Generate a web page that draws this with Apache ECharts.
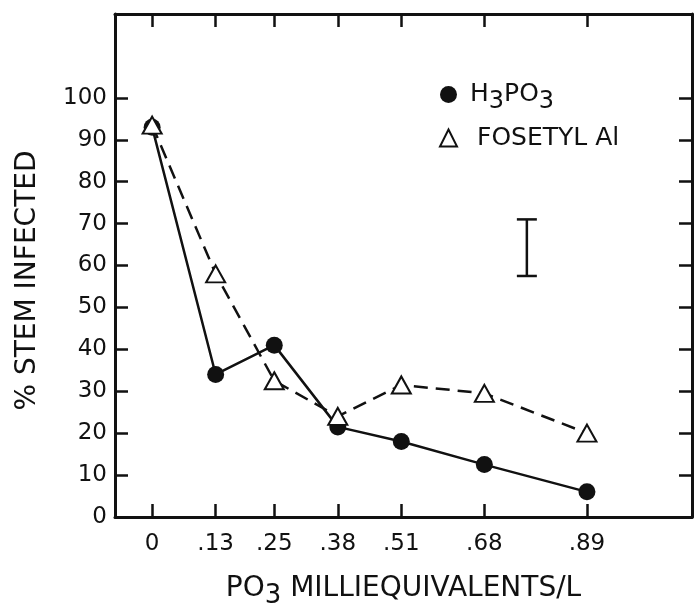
<!DOCTYPE html>
<html>
<head>
<meta charset="utf-8">
<script src="https://cdn.jsdelivr.net/npm/echarts@6/dist/echarts.min.js"></script>
<style>
  html, body { margin: 0; padding: 0; background: #fff; }
  #chart { width: 700px; height: 604px; }
</style>
</head>
<body>
<div id="chart"></div>
<script>
// PO3 concentration (meq/L) — the x positions of the points
const doses = [0, 0.13, 0.25, 0.38, 0.51, 0.68, 0.89];
// % stem infected
const h3po3 = [93, 34, 41, 21.5, 18, 12.5, 6];
const fosetyl = [93.5, 58, 32.5, 24, 31.5, 29.5, 20];
// error bar (LSD) drawn at the right of the plot
const errX = 0.767;
const errLow = 57.5;
const errHigh = 71;
const yTicks = [0, 10, 20, 30, 40, 50, 60, 70, 80, 90, 100];

const FONT = "DejaVu Sans";
const black = "#111";

function pairs(xs, ys) {
  return xs.map((x, i) => [x, ys[i]]);
}

const chart = echarts.init(document.getElementById("chart"), null, { renderer: "canvas" });

const tickStyle = { show: true, inside: true, length: 13, lineStyle: { color: black, width: 2.5 } };
const axisLine = { show: true, onZero: false, lineStyle: { color: black, width: 3 } };

chart.setOption({
  animation: false,
  backgroundColor: "#fff",
  grid: { left: 115, right: 8, top: 14, bottom: 87, containLabel: false, outerBoundsMode: "none" },
  legend: {
    orient: "vertical",
    left: 434,
    top: 77,
    itemWidth: 17,
    itemHeight: 17,
    itemGap: 12,
    data: [
      { name: "H3PO3", icon: "circle", itemStyle: { color: black, borderWidth: 0 } },
      { name: "FOSETYL Al", icon: "triangle", itemStyle: { color: "#fff", borderColor: black, borderWidth: 2 } },
    ],
    formatter: function (name) {
      if (name === "H3PO3") return "{f|H}{s|3}{n|PO}{s|3}";
      return "{g|" + name + "}";
    },
    textStyle: {
      color: black,
      fontFamily: FONT,
      rich: {
        f: { fontSize: 25, fontFamily: FONT, color: black, padding: [0, 0, 0, 8] },
        g: { fontSize: 25, fontFamily: FONT, color: black, padding: [0, 0, 0, 15] },
        n: { fontSize: 25, fontFamily: FONT, color: black },
        s: { fontSize: 24, fontFamily: FONT, color: black, padding: [14, 0, 0, 0] },
      },
    },
  },
  xAxis: [
    {
      type: "value",
      position: "bottom",
      min: -0.076,
      max: 1.105,
      axisLine: axisLine,
      axisTick: Object.assign({ customValues: doses }, tickStyle),
      axisLabel: {
        customValues: doses,
        margin: 16,
        color: black,
        fontFamily: FONT,
        fontSize: 23,
        formatter: function (v) {
          return v === 0 ? "0" : String(v).replace("0.", ".");
        },
      },
      splitLine: { show: false },
      name: "{n|PO}{s|3}{n| MILLIEQUIVALENTS/L}",
      nameLocation: "middle",
      nameGap: 52,
      nameTextStyle: {
        color: black,
        rich: {
          n: { fontSize: 28, fontFamily: FONT, color: black },
          s: { fontSize: 26, fontFamily: FONT, color: black, padding: [14, 0, 0, 0] },
        },
      },
    },
    {
      type: "value",
      position: "top",
      min: -0.076,
      max: 1.105,
      axisLine: axisLine,
      axisTick: Object.assign({ customValues: doses }, tickStyle),
      axisLabel: { show: false },
      splitLine: { show: false },
    },
  ],
  yAxis: [
    {
      type: "value",
      position: "left",
      min: 0,
      max: 120,
      axisLine: axisLine,
      axisTick: Object.assign({ customValues: yTicks }, tickStyle),
      axisLabel: {
        customValues: yTicks,
        margin: 8,
        color: black,
        fontFamily: FONT,
        fontSize: 23,
      },
      splitLine: { show: false },
      name: "% STEM INFECTED",
      nameLocation: "middle",
      nameGap: 73,
      nameTextStyle: { color: black, fontFamily: FONT, fontSize: 28, padding: [0, 30, 0, 0] },
    },
    {
      type: "value",
      position: "right",
      min: 0,
      max: 120,
      axisLine: axisLine,
      axisTick: Object.assign({ customValues: yTicks.slice(1) }, tickStyle),
      axisLabel: { show: false },
      splitLine: { show: false },
    },
  ],
  series: [
    {
      name: "H3PO3",
      type: "line",
      data: pairs(doses, h3po3),
      symbol: "circle",
      symbolSize: 17,
      lineStyle: { color: black, width: 2.5 },
      itemStyle: { color: black },
      z: 3,
    },
    {
      name: "FOSETYL Al",
      type: "line",
      data: pairs(doses, fosetyl),
      symbol: "triangle",
      symbolSize: [19, 17],
      lineStyle: { color: black, width: 2.5, type: [14, 8] },
      itemStyle: { color: "#fff", borderColor: black, borderWidth: 2 },
      z: 4,
    },
    {
      // error bar: vertical line with flat caps
      name: "err",
      type: "line",
      data: [[errX, errLow], [errX, errHigh]],
      symbol: "rect",
      symbolSize: [20, 2.5],
      lineStyle: { color: black, width: 2.5 },
      itemStyle: { color: black },
      z: 2,
    },
  ],
});
</script>
</body>
</html>
